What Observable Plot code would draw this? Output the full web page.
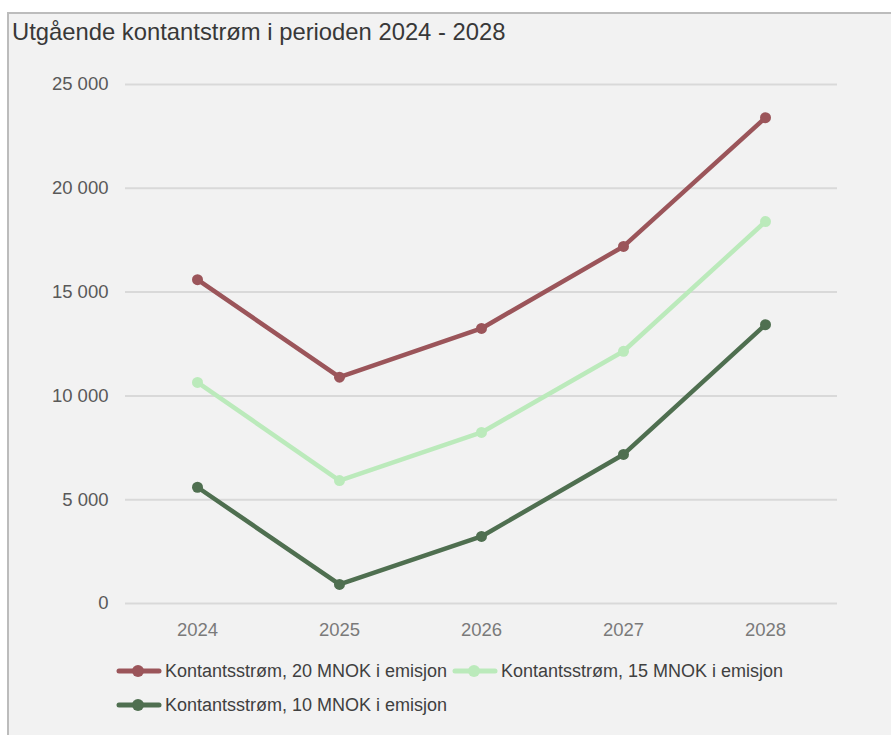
<!DOCTYPE html>
<html>
<head>
<meta charset="utf-8">
<script src="https://cdn.jsdelivr.net/npm/d3@7"></script>
<script src="https://cdn.jsdelivr.net/npm/@observablehq/plot@0.6"></script>
<style>
  html, body { margin: 0; padding: 0; background: #ffffff; }
  body { width: 891px; height: 735px; position: relative; overflow: hidden; font-family: "Liberation Sans", Arial, sans-serif; }
  #panel { position: absolute; left: 7px; top: 12px; right: 0; bottom: 0; background: #f2f2f2;
           border-left: 2px solid #bcbcbc; border-top: 2px solid #bcbcbc; }
  #chart { position: absolute; left: 0; top: 0; }
  #title { position: absolute; left: 12px; top: 20px; font-size: 23.8px; line-height: 24px; color: #383838; white-space: nowrap; }
  .leg { position: absolute; display: flex; align-items: center; font-size: 18px; color: #404040; white-space: nowrap; height: 24px; }
  .leg svg { margin-right: 3px; }
</style>
</head>
<body>
<div id="panel"></div>
<div id="chart"></div>
<div id="title">Utgående kontantstrøm i perioden 2024 - 2028</div>
<div id="legend"></div>
<script>
const years = [2024, 2025, 2026, 2027, 2028];
const seriesNames = [
  "Kontantsstrøm, 20 MNOK i emisjon",
  "Kontantsstrøm, 15 MNOK i emisjon",
  "Kontantsstrøm, 10 MNOK i emisjon"
];
const values20 = [15600, 10900, 13250, 17200, 23400];
const values15 = [10650, 5920, 8240, 12150, 18400];
const values10 = [5600, 920, 3230, 7180, 13430];
const colors = ["#9b555a", "#bbeabb", "#4f6f50"];
const yTicks = [0, 5000, 10000, 15000, 20000, 25000];

const seriesValues = [values20, values15, values10];
const data = seriesNames.flatMap((name, i) =>
  years.map((year, j) => ({ series: name, year: String(year), value: seriesValues[i][j] })));

const fmt = d3.formatLocale({ thousands: " ", grouping: [3], decimal: "," }).format(",");

const chart = Plot.plot({
  width: 891,
  height: 735,
  marginLeft: 125,
  marginRight: 54,
  marginTop: 84,
  marginBottom: 132,
  style: { background: "transparent", overflow: "visible", fontFamily: "Liberation Sans, Arial, sans-serif" },
  x: { type: "point", domain: years.map(String), padding: 0.5, label: null },
  y: { domain: [0, 25000], label: null },
  color: { domain: seriesNames, range: colors },
  marks: [
    Plot.ruleY(yTicks, { stroke: "#d9d9d9", strokeWidth: 2 }),
    Plot.axisY(yTicks, { tickSize: 0, tickPadding: 17, tickFormat: fmt, fontSize: 18.5, fill: "#595959", label: null }),
    Plot.axisX({ tickSize: 0, tickPadding: 19, fontSize: 18.5, fill: "#7a7a7a", label: null }),
    Plot.line(data, { x: "year", y: "value", z: "series", stroke: "series", strokeWidth: 4.5 }),
    Plot.dot(data, { x: "year", y: "value", fill: "series", r: 5.5 })
  ]
});
document.getElementById("chart").appendChild(chart);

// legend
const legendPos = [[116, 659], [452, 659], [116, 693]];
const legend = document.getElementById("legend");
seriesNames.forEach((name, i) => {
  const div = document.createElement("div");
  div.className = "leg";
  div.style.left = legendPos[i][0] + "px";
  div.style.top = legendPos[i][1] + "px";
  div.innerHTML = `<svg width="46" height="24"><line x1="3" x2="43" y1="12" y2="12" stroke="${colors[i]}" stroke-width="5" stroke-linecap="round"/><circle cx="22" cy="12" r="6" fill="${colors[i]}"/></svg><span>${name}</span>`;
  legend.appendChild(div);
});
</script>
</body>
</html>
